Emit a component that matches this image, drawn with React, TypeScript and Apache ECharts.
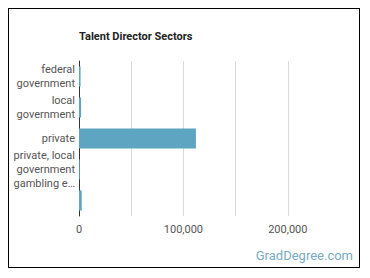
import React, { useEffect, useRef } from "react";
import * as echarts from "echarts";

const categories = [
  "federal\ngovernment",
  "local\ngovernment",
  "private",
  "private, local\ngovernment\ngambling e…",
  "",
];
const values = [1500, 2000, 112000, 800, 2600];
const xTicks = [0, 50000, 100000, 150000, 200000, 250000];
const labelStep = 100000;

export default function App() {
  const ref = useRef<HTMLDivElement>(null);
  useEffect(() => {
    if (!ref.current) return;
    const chart = echarts.init(ref.current, null, { renderer: "svg" });
    chart.setOption({
      animation: false,
      title: {
        text: "Talent Director Sectors",
        left: 70,
        top: 22,
        padding: 0,
        textStyle: { fontFamily: "Roboto", fontSize: 11, fontWeight: "bold", color: "#222" },
      },
      graphic: [
        {
          type: "text",
          right: 6,
          top: 240,
          style: { text: "GradDegree.com", fill: "#7aaac6", font: "13px Roboto" },
        },
      ],
      grid: { left: 70, top: 52, right: 19, bottom: 51, containLabel: false },
      xAxis: {
        type: "value",
        min: xTicks[0],
        max: xTicks[xTicks.length - 1],
        interval: xTicks[1] - xTicks[0],
        axisLine: { show: false },
        axisTick: { show: false },
        splitLine: { show: true, showMaxLine: false, lineStyle: { color: "#d9d9d9", width: 1 } },
        axisLabel: {
          showMaxLabel: false,
          color: "#555",
          fontFamily: "Roboto",
          fontSize: 11,
          margin: 8,
          formatter: (v: number) => (v % labelStep === 0 ? v.toLocaleString("en-US") : ""),
        },
      },
      yAxis: {
        type: "category",
        inverse: true,
        data: categories,
        axisLine: { show: true, lineStyle: { color: "#333", width: 1 } },
        axisTick: { show: false },
        axisLabel: {
          color: "#555",
          fontFamily: "Roboto",
          fontSize: 11,
          margin: 4,
          lineHeight: 14,
        },
      },
      series: [
        {
          type: "bar",
          data: values,
          barCategoryGap: "35%",
          itemStyle: { color: "#5ea5c1" },
        },
      ],
    });
    return () => chart.dispose();
  }, []);
  return (
    <div
      ref={ref}
      style={{ width: 350, height: 258, border: "1px solid #000" }}
    />
  );
}
